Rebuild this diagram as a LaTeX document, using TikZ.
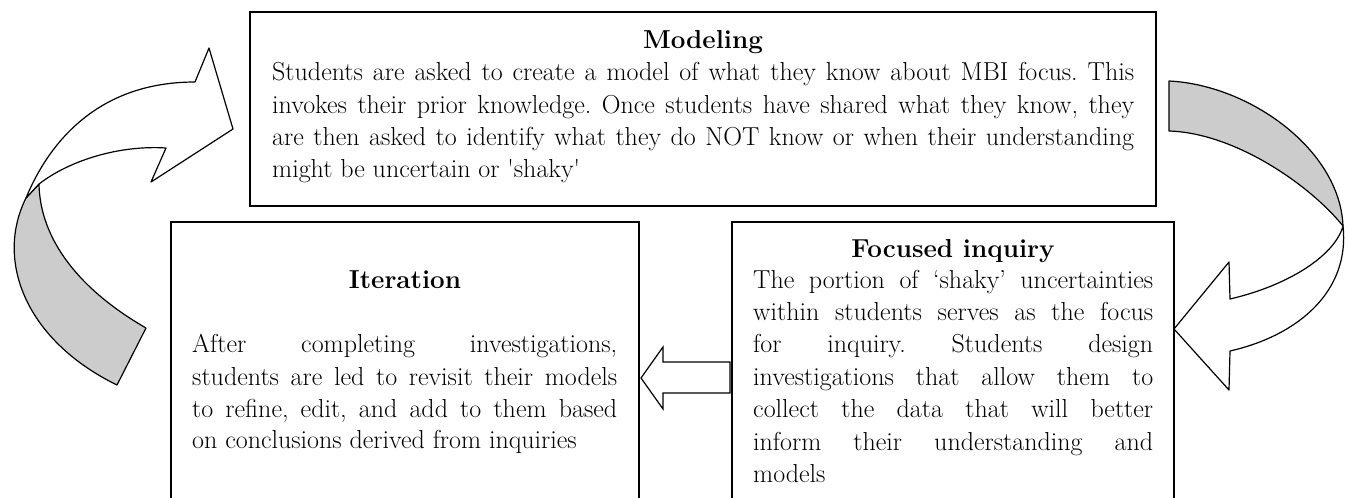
\documentclass[tikz,border=0pt]{standalone}
\usepackage{xcolor}
\definecolor{ribbon}{RGB}{204,204,204}
\frenchspacing
\begin{document}
\begin{tikzpicture}[x=1pt,y=-1pt,
  box/.style={draw, line width=1.2pt, inner sep=0pt},
  ribbonshape/.style={draw, line width=1.2pt, line join=round},
  txt/.style={inner sep=0pt, anchor=base west, font=\fontsize{26}{32}\selectfont},
  ttl/.style={inner sep=0pt, anchor=base, font=\fontsize{26}{32}\selectfont\bfseries}]
\useasboundingbox (0,0) rectangle (1345,498);

% boxes
\node[box, minimum width=906pt, minimum height=194pt] (modeling) at (703,109) {};
\node[box, minimum width=468pt, minimum height=290pt] (iteration) at (405,367) {};
\node[box, minimum width=442pt, minimum height=290pt] (focused) at (953,367) {};

% Modeling text
\node[ttl] (mt) at (703,48) {Modeling};
\node[txt] (m1) at (272,80) {\makebox[862pt][s]{Students are asked to create a model of what they know about MBI focus. This}};
\node[txt] (m2) at (272,113) {\makebox[862pt][s]{invokes their prior knowledge. Once students have shared what they know, they}};
\node[txt] (m3) at (272,145) {\makebox[862pt][s]{are then asked to identify what they do NOT know or when their understanding}};
\node[txt] (m4) at (272,177) {might be uncertain or \textquotesingle shaky\textquotesingle};

% Iteration text
\node[ttl] (it) at (405,288) {Iteration};
\node[txt] (i1) at (192,352) {\makebox[425pt][s]{After completing investigations,}};
\node[txt] (i2) at (192,385) {\makebox[425pt][s]{students are led to revisit their models}};
\node[txt] (i3) at (192,417) {\makebox[425pt][s]{to refine, edit, and add to them based}};
\node[txt] (i4) at (192,448) {on conclusions derived from inquiries};

% Focused inquiry text
\node[ttl] (ft) at (953,257) {Focused inquiry};
\node[txt] (f1) at (753,288) {\makebox[400pt][s]{The portion of ‘shaky’ uncertainties}};
\node[txt] (f2) at (753,320) {\makebox[400pt][s]{within students serves as the focus}};
\node[txt] (f3) at (753,352) {\makebox[400pt][s]{for inquiry. Students design}};
\node[txt] (f4) at (753,385) {\makebox[400pt][s]{investigations that allow them to}};
\node[txt] (f5) at (753,417) {\makebox[400pt][s]{collect the data that will better}};
\node[txt] (f6) at (753,450) {\makebox[400pt][s]{inform their understanding and}};
\node[txt] (f7) at (753,482) {models};

% middle block arrow (focused -> iteration)
\draw[ribbonshape, line join=miter, fill=white] (730,362) -- (663,362) -- (663,347) -- (641,378) -- (663,409) -- (663,393) -- (730,393) -- cycle;

% left curved arrow (iteration -> modeling)
\draw[ribbonshape, fill=ribbon] (26,198) .. controls (-5,260) and (25,340) .. (117,385) -- (146,328) .. controls (80,290) and (40,240) .. (39,184) -- cycle;
\draw[ribbonshape, fill=white] (26,198) .. controls (50,140) and (100,82) .. (195,82) -- (209,48) -- (233,129) -- (151,182) -- (166,148) .. controls (120,145) and (70,160) .. (39,184) -- cycle;

% right curved arrow (modeling -> focused)
\draw[ribbonshape, fill=ribbon] (1169,81) .. controls (1250,85) and (1340,150) .. (1343,226) .. controls (1310,185) and (1235,133) .. (1169,131) -- cycle;
\draw[ribbonshape, fill=white] (1343,226) .. controls (1335,255) and (1290,285) .. (1230,299) -- (1229,262) -- (1174,329) -- (1229,390) -- (1230,351) .. controls (1300,335) and (1350,290) .. (1343,226) -- cycle;
\end{tikzpicture}
\end{document}
